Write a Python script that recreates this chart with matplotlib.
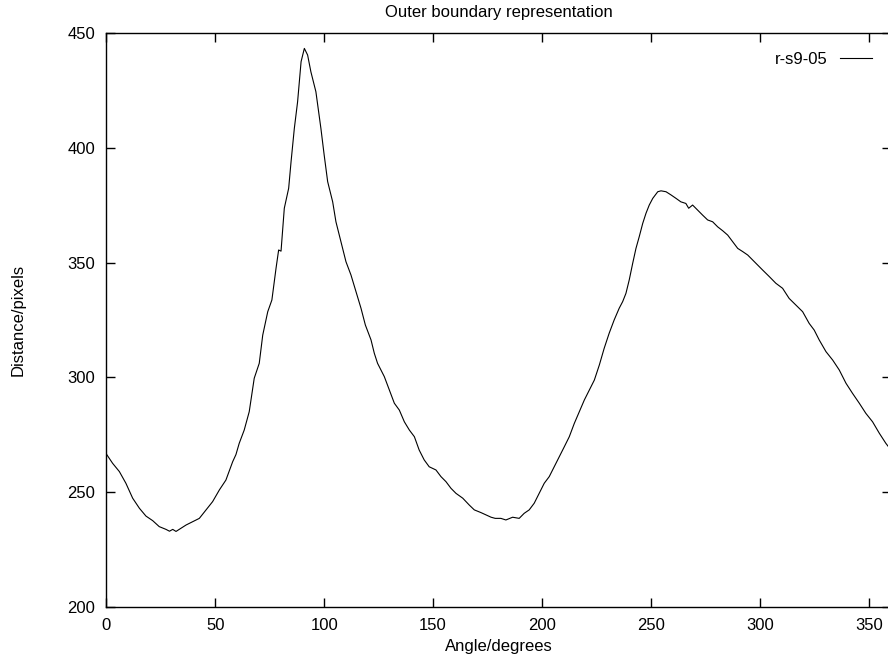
import matplotlib
matplotlib.use('Agg')
import matplotlib.pyplot as plt

# Data (angle in degrees, distance in pixels)
angle = [0, 2.9, 6.0, 9.0, 12.1, 15.2, 18.2, 21.3, 24.3, 27.4, 29.0, 30.5, 32.0, 33.5,
         36.6, 39.7, 42.7, 45.8, 48.8, 51.9, 54.9, 58.0, 59.5,
         61.0, 63.3, 65.6, 67.9, 70.2, 71.8, 74.1, 76.0, 77.9, 79.1, 80.2, 81.7,
         83.7, 84.8, 86.3, 87.8, 89.4, 90.9, 92.4, 93.9, 96.2, 98.5, 100.0, 101.6,
         103.9, 105.4, 107.7, 110.0, 112.3, 114.6, 116.9, 118.9,
         121.5, 123.0, 124.5, 127.6, 129.9, 132.2, 134.5, 136.8, 139.1, 141.4,
         143.6, 145.9, 148.2, 151.3, 153.6, 155.9, 158.2, 160.5, 163.6, 166.6,
         168.9, 172.0, 174.3, 176.6, 178.5,
         181.1, 183.4, 186.5, 189.5, 191.8, 194.1, 196.4, 198.7, 201.0, 203.3,
         205.6, 207.9, 210.2, 212.5, 214.8, 217.1, 219.4, 221.7, 224.0, 226.3,
         228.5, 230.8, 233.1, 235.4, 237.0, 238.5,
         240.0, 241.6, 243.1, 244.6, 246.2, 247.7, 249.2, 250.8, 253.1, 254.6,
         256.9, 259.2, 261.5, 263.7, 266.0, 267.3, 269.1, 271.4, 273.7, 276.0,
         278.3, 280.6, 282.9, 285.2, 287.5, 289.8, 292.1, 294.4, 296.7, 298.2,
         301.2, 304.3, 307.3, 310.4, 313.4, 316.5, 319.6, 322.6, 324.9, 327.2,
         330.3, 333.4, 336.4, 339.5, 342.5, 345.6, 348.6, 351.7, 354.8, 357.8, 360]
dist = [266.6, 262.5, 258.9, 253.8, 247.3, 242.9, 239.5, 237.5, 234.9, 233.7, 232.9, 233.7, 232.8, 233.7,
        235.6, 237.1, 238.5, 242.2, 245.8, 250.9, 255.2, 263.2, 266.3,
        271.2, 277.0, 285.0, 299.6, 306.1, 318.4, 328.6, 333.7, 347.5, 355.5, 355.0, 373.7,
        382.4, 394.0, 408.5, 420.1, 437.6, 443.4, 440.5, 433.2, 424.5, 408.5, 396.9, 385.3,
        376.5, 367.8, 359.1, 350.4, 344.6, 337.3, 330.1, 322.8,
        316.3, 310.5, 306.1, 300.3, 294.5, 288.7, 285.7, 280.6, 277.0, 274.1,
        268.3, 264.0, 261.0, 259.6, 256.7, 254.5, 251.6, 249.4, 247.3, 244.3,
        242.2, 241.0, 240.0, 239.0, 238.5,
        238.5, 237.8, 239.0, 238.5, 240.7, 242.2, 245.1, 249.4, 253.8, 256.7,
        261.0, 265.4, 269.7, 274.1, 279.9, 285.0, 290.1, 294.5, 298.8, 305.4,
        312.6, 319.2, 325.0, 330.1, 333.0, 336.6,
        342.4, 349.7, 356.2, 361.3, 367.1, 371.5, 375.1, 378.0, 380.9, 381.3,
        380.9, 379.5, 378.0, 376.5, 375.8, 373.7, 375.1, 372.9, 370.7, 368.6,
        367.8, 365.6, 363.9, 362.0, 359.1, 356.2, 354.8, 353.3, 351.1, 349.7,
        346.8, 343.9, 341.0, 338.8, 334.4, 331.5, 328.6, 323.5, 320.6, 316.3,
        311.2, 307.5, 303.2, 297.4, 293.0, 288.7, 284.3, 280.6, 275.6, 271.2, 268.5]

xticks = [0, 50, 100, 150, 200, 250, 300, 350]
yticks = [200, 250, 300, 350, 400, 450]

plt.rcParams['font.family'] = ['Liberation Sans', 'DejaVu Sans']
plt.rcParams['font.size'] = 12

fig = plt.figure(figsize=(8.88, 6.57), dpi=100)
# axes run past the right edge of the image, like the cropped original
ax = fig.add_axes([0.1197, 0.0766, 0.8833, 0.8728])

ax.plot(angle, dist, color='black', lw=0.8, label='r-s9-05')

ax.set_xlim(0, 360)
ax.set_ylim(200, 450)
ax.set_xticks(xticks)
ax.set_yticks(yticks)
ax.tick_params(direction='in', length=6.5, width=1, top=True, right=True, pad=8)
for s in ax.spines.values():
    s.set_linewidth(1.0)

fig.text(0.5614, 1 - 13 / 657, 'Outer boundary representation', ha='center', va='center')
fig.text(0.5614, 10 / 657, 'Angle/degrees', ha='center', va='center')
fig.text(18 / 888, 1 - 320 / 657, 'Distance/pixels', ha='center', va='center', rotation=90)

ax.legend(loc='center right', bbox_to_anchor=(0.9762, 0.9547), frameon=False,
          markerfirst=False, handlelength=1.92, handletextpad=0.74,
          borderpad=0, borderaxespad=0)

fig.savefig('out.png', dpi=100)
